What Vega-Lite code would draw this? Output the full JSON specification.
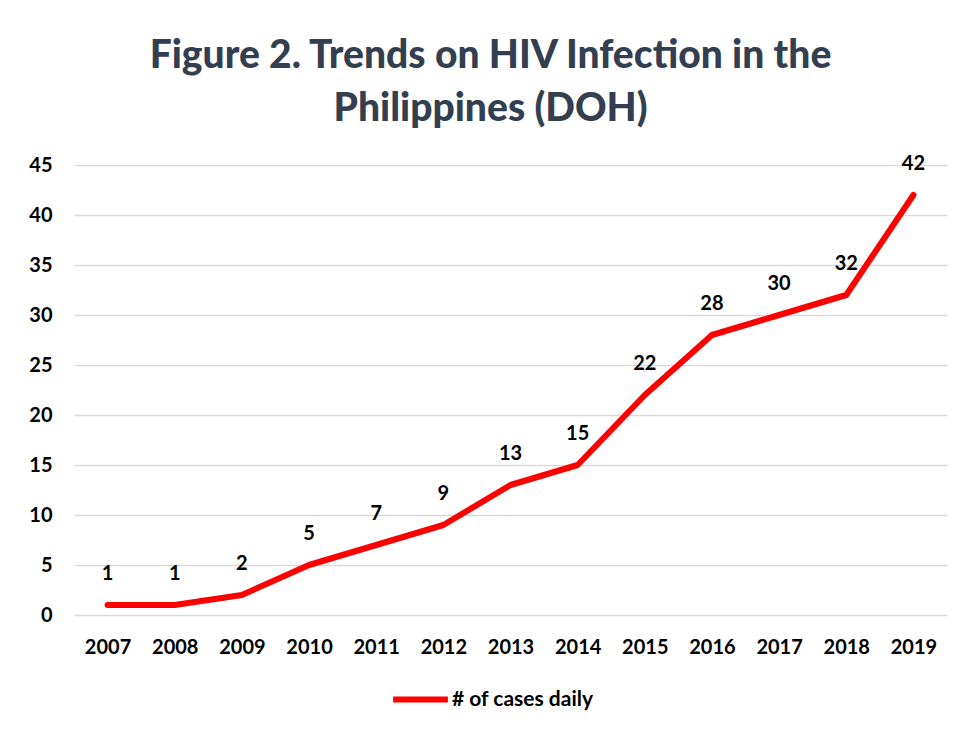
{
  "$schema": "https://vega.github.io/schema/vega-lite/v6.json",
  "width": 873,
  "height": 450,
  "autosize": "none",
  "padding": {"left": 74, "top": 165, "right": 11, "bottom": 117},
  "background": "white",
  "config": {
    "font": "Lato",
    "view": {"stroke": null}
  },
  "title": {
    "text": ["Figure 2. Trends on HIV Infection in the", "Philippines (DOH)"],
    "fontSize": 39,
    "fontWeight": 900,
    "font": "Lato",
    "color": "#333F50",
    "anchor": "middle",
    "frame": "group",
    "dx": -20,
    "offset": 25,
    "lineHeight": 53
  },
  "data": {
    "values": [
      {"year": "2007", "cases": 1, "series": "# of cases daily"},
      {"year": "2008", "cases": 1, "series": "# of cases daily"},
      {"year": "2009", "cases": 2, "series": "# of cases daily"},
      {"year": "2010", "cases": 5, "series": "# of cases daily"},
      {"year": "2011", "cases": 7, "series": "# of cases daily"},
      {"year": "2012", "cases": 9, "series": "# of cases daily"},
      {"year": "2013", "cases": 13, "series": "# of cases daily"},
      {"year": "2014", "cases": 15, "series": "# of cases daily"},
      {"year": "2015", "cases": 22, "series": "# of cases daily"},
      {"year": "2016", "cases": 28, "series": "# of cases daily"},
      {"year": "2017", "cases": 30, "series": "# of cases daily"},
      {"year": "2018", "cases": 32, "series": "# of cases daily"},
      {"year": "2019", "cases": 42, "series": "# of cases daily"}
    ]
  },
  "encoding": {
    "x": {
      "field": "year",
      "type": "ordinal",
      "scale": {"type": "point", "padding": 0.5},
      "axis": {
        "title": null,
        "labelAngle": 0,
        "labelFontSize": 20,
        "labelFontWeight": "bold",
        "labelColor": "#000000",
        "labelPadding": 22,
        "ticks": false,
        "domain": false,
        "grid": false
      }
    },
    "y": {
      "field": "cases",
      "type": "quantitative",
      "scale": {"domain": [0, 45], "nice": false},
      "axis": {
        "title": null,
        "values": [0, 5, 10, 15, 20, 25, 30, 35, 40, 45],
        "labelFontSize": 20,
        "labelFontWeight": "bold",
        "labelColor": "#000000",
        "labelPadding": 22,
        "ticks": false,
        "domain": false,
        "gridColor": "#D9D9D9",
        "gridWidth": 1.5
      }
    }
  },
  "layer": [
    {
      "mark": {"type": "line", "strokeWidth": 6, "strokeCap": "round", "strokeJoin": "round"},
      "encoding": {
        "color": {
          "field": "series",
          "type": "nominal",
          "scale": {"range": ["#FF0000"]},
          "legend": {
            "title": null,
            "orient": "none",
            "legendX": 316,
            "legendY": 504,
            "symbolType": "stroke",
            "symbolStrokeWidth": 6,
            "symbolSize": 3000,
            "labelFontSize": 21,
            "labelFontWeight": "bold",
            "labelColor": "#000000",
            "labelOffset": 1
          }
        }
      }
    },
    {
      "mark": {"type": "text", "dy": -31, "fontSize": 20, "fontWeight": "bold", "color": "#000000"},
      "encoding": {"text": {"field": "cases", "type": "quantitative"}}
    }
  ]
}
